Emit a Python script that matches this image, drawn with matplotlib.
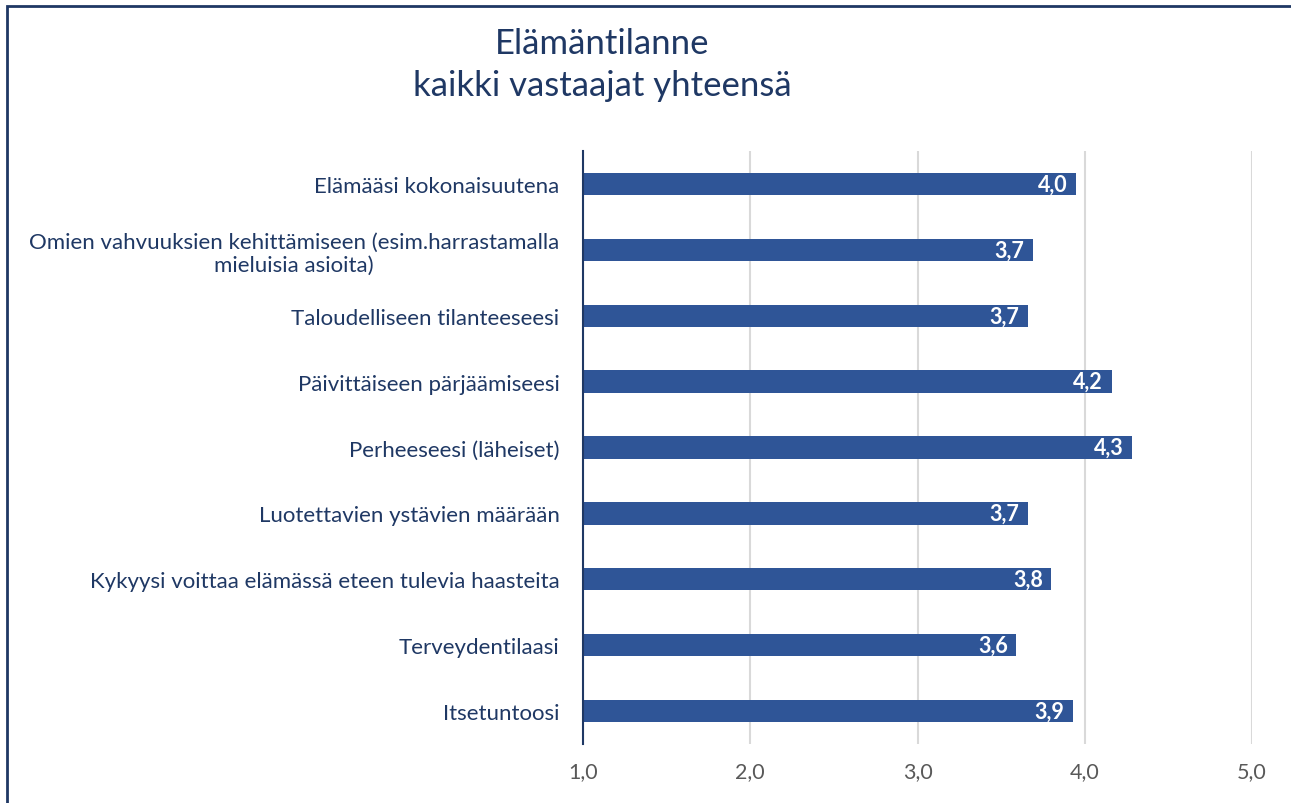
import matplotlib
matplotlib.use("Agg")
from matplotlib import pyplot as plt
from matplotlib.patches import Rectangle

categories = [
    "Elämääsi kokonaisuutena",
    "Omien vahvuuksien kehittämiseen (esim.harrastamalla\nmieluisia asioita)",
    "Taloudelliseen tilanteeseesi",
    "Päivittäiseen pärjäämiseesi",
    "Perheeseesi (läheiset)",
    "Luotettavien ystävien määrään",
    "Kykyysi voittaa elämässä eteen tulevia haasteita",
    "Terveydentilaasi",
    "Itsetuntoosi",
]
values = [3.95, 3.69, 3.66, 4.16, 4.28, 3.66, 3.80, 3.59, 3.93]
xticks = [1.0, 2.0, 3.0, 4.0, 5.0]
title = "Elämäntilanne\nkaikki vastaajat yhteensä"

bar_color = "#2F5597"
navy = "#1F3864"
plt.rcParams["font.family"] = ["Lato", "DejaVu Sans"]

fig = plt.figure(figsize=(12.91, 8.04), dpi=100)
ax = fig.add_axes([583 / 1291, 1 - 745 / 804, (1252 - 583) / 1291, (745 - 152) / 804])

ypos = list(range(len(categories)))
ax.barh(ypos, [v - 1.0 for v in values], left=1.0, height=0.34, color=bar_color, zorder=3)

for y, v in zip(ypos, values):
    ax.text(v - 0.05, y, f"{v:.1f}".replace(".", ","), ha="right", va="center",
            color="white", fontsize=15.5, fontweight="bold", zorder=4)

ax.set_xlim(1.0, 5.0)
ax.set_ylim(len(categories) - 0.5, -0.5)
ax.set_xticks(xticks)
ax.set_xticklabels([f"{t:.1f}".replace(".", ",") for t in xticks], color="#595959", fontsize=15.5)
ax.set_yticks(ypos)
ax.set_yticklabels(categories, color=navy, fontsize=16, multialignment="center")
ax.tick_params(axis="both", length=0)
ax.tick_params(axis="x", pad=12)
ax.tick_params(axis="y", pad=17)
ax.grid(axis="x", color="#D9D9D9", linewidth=1.5, zorder=0)
for s in ["top", "right", "bottom"]:
    ax.spines[s].set_visible(False)
ax.spines["left"].set_color(navy)
ax.spines["left"].set_linewidth(1.5)
ax.spines["left"].set_zorder(5)

fig.text(602 / 1291, 1 - 65 / 804, title, ha="center", va="center", color=navy,
         fontsize=25, linespacing=1.4)

fig.patches.append(Rectangle((7 / 1291, -0.1), 1.2, 1 - 7 / 804 + 0.1, transform=fig.transFigure,
                             fill=False, edgecolor=navy, linewidth=2))

fig.savefig("out.png", dpi=100)
